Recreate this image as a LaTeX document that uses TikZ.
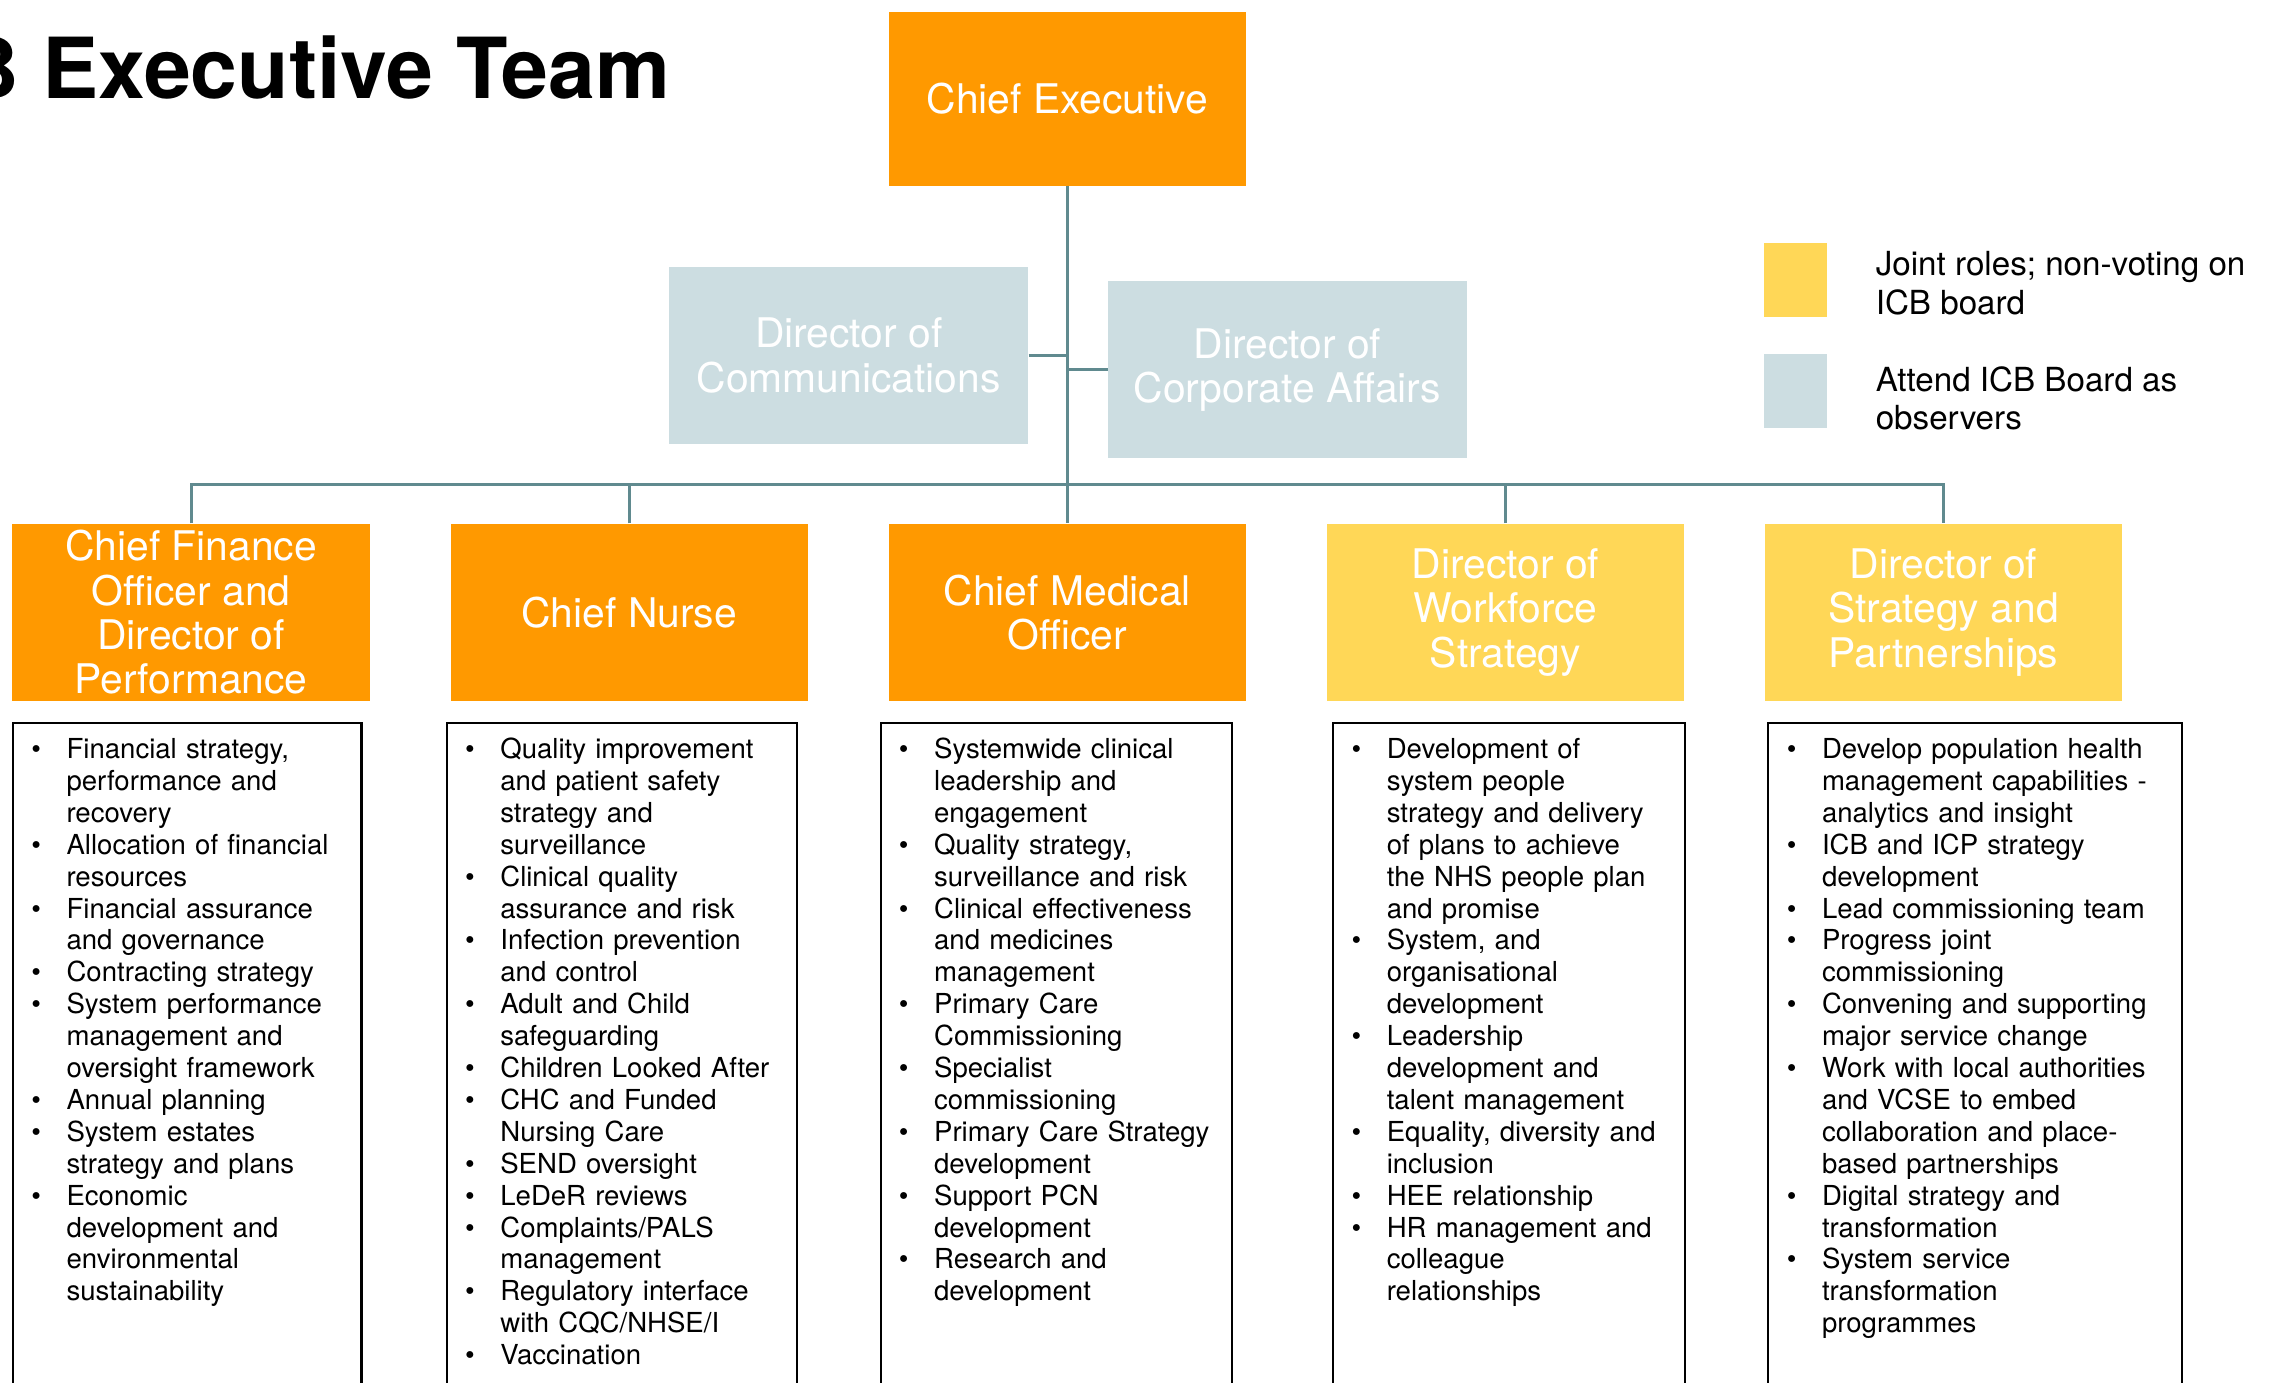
\documentclass[tikz,border=0pt]{standalone}
\usepackage{fontspec}
\setmainfont{TeX Gyre Heros}
\usetikzlibrary{positioning}

\definecolor{execorange}{RGB}{255,153,0}
\definecolor{jointyellow}{RGB}{255,215,87}
\definecolor{observerblue}{RGB}{204,221,225}
\definecolor{linkteal}{RGB}{96,138,143}

% bullet list for the portfolio boxes
\newenvironment{duties}{%
    \list{\textbullet}{%
        \setlength{\topsep}{0pt}\setlength{\partopsep}{0pt}%
        \setlength{\itemsep}{0pt}\setlength{\parsep}{0pt}%
        \setlength{\leftmargin}{21pt}\setlength{\labelsep}{10pt}%
        \setlength{\labelwidth}{11pt}}%
}{\endlist}

\tikzset{
    role/.style={ % #1 = fill colour
        fill=#1, text=white, inner sep=0pt,
        minimum width=4.92cm, minimum height=2.44cm,
        align=center, font=\fontsize{16}{17.4}\selectfont
    },
    dutybox/.style={ % #1 = box width
        draw=black, line width=0.8pt, inner sep=0pt,
        text width=#1, align=left,
        text height=1.5pt, text depth=9.3cm,
        font=\fontsize{10.8}{12.5}\selectfont
    },
    link/.style={draw=linkteal, line width=1.1pt},
    swatch/.style={
        fill=#1, inner sep=0pt,
        minimum width=0.86cm, minimum height=1.02cm
    },
    keytext/.style={align=left, inner sep=0pt, font=\fontsize{13}{15}\selectfont}
}

\begin{document}
\begin{tikzpicture}
\useasboundingbox (0,0) rectangle (31.36,-19.04);

% ============ Title ============

\node[anchor=base east, inner sep=0pt, font=\fontsize{33}{38}\selectfont\bfseries]
    (title) at (9.24,-1.36) {ICB Executive Team};

% ============ Chief Executive and observers ============

\node[role=execorange, minimum height=2.4cm] (ce) at (14.7,-1.36) {Chief Executive};

\node[role=observerblue, minimum width=4.94cm, below=1.1cm of ce, xshift=-3.01cm] (comms)
    {Director of\\Communications};
\node[role=observerblue, minimum width=4.94cm, below=1.3cm of ce, xshift=3.03cm] (corp)
    {Director of\\Corporate Affairs};

% ============ Executive directors ============

\node[role=execorange, below=4.64cm of ce] (cmo) {Chief Medical\\Officer};
\node[role=execorange, left=1.1cm of cmo] (nurse) {Chief Nurse};
\node[role=execorange, left=1.1cm of nurse] (cfo)
    {Chief Finance\\Officer and\\Director of\\Performance};
\node[role=jointyellow, right=1.1cm of cmo] (wf) {Director of\\Workforce\\Strategy};
\node[role=jointyellow, right=1.1cm of wf] (strat)
    {Director of\\Strategy and\\Partnerships};

\coordinate[above=0.54cm of cmo.north] (bus);

% ============ Portfolios ============

\node[dutybox=4.8cm, below=0.28cm of cfo.south west, anchor=north west] (cfoduties) {%
\begin{duties}
\item Financial strategy,\\ performance and\\ recovery
\item Allocation of financial\\ resources
\item Financial assurance\\ and governance
\item Contracting strategy
\item System performance\\ management and\\ oversight framework
\item Annual planning
\item System estates\\ strategy and plans
\item Economic\\ development and\\ environmental\\ sustainability
\end{duties}};

\node[dutybox=4.82cm, below=0.28cm of nurse.south west, anchor=north west, xshift=-0.06cm]
    (nurseduties) {%
\begin{duties}
\item Quality improvement\\ and patient safety\\ strategy and\\ surveillance
\item Clinical quality\\ assurance and risk
\item Infection prevention\\ and control
\item Adult and Child\\ safeguarding
\item Children Looked After
\item CHC and Funded\\ Nursing Care
\item SEND oversight
\item LeDeR reviews
\item Complaints/PALS\\ management
\item Regulatory interface\\ with CQC/NHSE/I
\item Vaccination
\end{duties}};

\node[dutybox=4.84cm, below=0.28cm of cmo.south west, anchor=north west, xshift=-0.12cm]
    (cmoduties) {%
\begin{duties}
\item Systemwide clinical\\ leadership and\\ engagement
\item Quality strategy,\\ surveillance and risk
\item Clinical effectiveness\\ and medicines\\ management
\item Primary Care\\ Commissioning
\item Specialist\\ commissioning
\item Primary Care Strategy\\ development
\item Support PCN\\ development
\item Research and\\ development
\end{duties}};

\node[dutybox=4.84cm, below=0.28cm of wf.south west, anchor=north west, xshift=0.08cm]
    (wfduties) {%
\begin{duties}
\item Development of\\ system people\\ strategy and delivery\\ of plans to achieve\\ the NHS people plan\\ and promise
\item System, and\\ organisational\\ development
\item Leadership\\ development and\\ talent management
\item Equality, diversity and\\ inclusion
\item HEE relationship
\item HR management and\\ colleague\\ relationships
\end{duties}};

\node[dutybox=5.7cm, below=0.28cm of strat.south west, anchor=north west, xshift=0.04cm]
    (stratduties) {%
\begin{duties}
\item Develop population health\\ management capabilities -\\ analytics and insight
\item ICB and ICP strategy\\ development
\item Lead commissioning team
\item Progress joint\\ commissioning
\item Convening and supporting\\ major service change
\item Work with local authorities\\ and VCSE to embed\\ collaboration and place-\\ based partnerships
\item Digital strategy and\\ transformation
\item System service\\ transformation\\ programmes
\end{duties}};

% ============ Key ============

\node[swatch=jointyellow] (keyjoint) at (24.73,-3.85) {};
\node[keytext, right=0.66cm of keyjoint, yshift=-0.05cm] (jointtext)
    {Joint roles; non-voting on\\ICB board};
\node[swatch=observerblue, below=0.5cm of keyjoint] (keyobs) {};
\node[keytext, right=0.66cm of keyobs, yshift=-0.1cm] (obstext)
    {Attend ICB Board as\\observers};

% ============ Lines ============

\draw[link] (ce) -- (cmo);
\draw[link] (comms.east) -- (comms.east -| ce.south);
\draw[link] (corp.west) -- (corp.west -| ce.south);
\draw[link] (cfo.north) |- (bus) -| (strat.north);
\foreach \who in {nurse, wf}
    \draw[link] (\who.north) -- (\who.north |- bus);

\end{tikzpicture}
\end{document}
